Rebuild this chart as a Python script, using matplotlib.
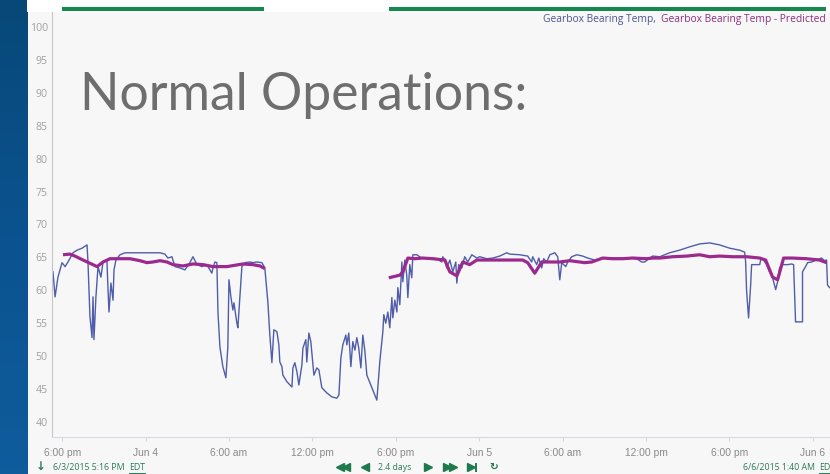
"""Gearbox bearing temperature trend, normal operations slide."""

from __future__ import annotations

import matplotlib

matplotlib.use("Agg")
import matplotlib.pyplot as plt
import numpy as np
import pandas as pd
from matplotlib.colors import LinearSegmentedColormap
from matplotlib.patches import Rectangle

START = pd.Timestamp("2015-06-03 17:16")
END = pd.Timestamp("2015-06-06 01:40")

# hours after START, bearing temperature
actual_hours = [
    0.07, 0.22, 0.43, 0.72, 0.94, 1.15, 1.51, 1.80, 2.16, 2.52, 2.59, 2.73, 2.88, 2.95,
    3.02, 3.16, 3.31, 3.52, 3.67, 3.95, 4.03, 4.10, 4.24, 4.39, 4.46, 4.60, 4.89, 5.25,
    5.75, 6.33, 7.05, 7.77, 8.12, 8.34, 8.63, 8.84, 9.20, 9.56, 9.92, 10.14, 10.43,
    10.79, 11.14, 11.36, 11.50, 11.58, 11.72, 11.86, 11.94, 12.08, 12.29, 12.51, 12.65,
    12.73, 12.87, 13.01, 13.09, 13.30, 13.37, 13.52, 13.66, 13.88, 14.24, 14.45, 14.74,
    15.10, 15.31, 15.53, 15.67, 15.82, 15.96, 16.18, 16.32, 16.39, 16.54, 16.61, 16.90,
    17.26, 17.33, 17.47, 17.62, 17.76, 17.98, 18.05, 18.26, 18.33, 18.48, 18.62, 18.77,
    18.84, 19.05, 19.20, 19.41, 19.77, 20.13, 20.49, 20.64, 20.78, 20.92, 21.14, 21.21,
    21.35, 21.50, 21.64, 21.79, 21.93, 22.07, 22.22, 22.36, 22.50, 22.65, 23.01, 23.37,
    23.58, 23.80, 23.87, 24.01, 24.16, 24.30, 24.45, 24.52, 24.66, 24.81, 24.88, 25.02,
    25.17, 25.24, 25.38, 25.52, 25.60, 25.74, 25.88, 25.96, 26.24, 26.60, 27.18, 27.68,
    28.04, 28.11, 28.26, 28.40, 28.62, 28.83, 29.05, 29.12, 29.26, 29.48, 29.69, 29.91,
    30.20, 30.56, 30.77, 31.28, 31.71, 32.21, 32.71, 32.93, 33.65, 34.22, 34.51, 34.58,
    34.87, 35.02, 35.23, 35.37, 35.59, 35.81, 36.17, 36.38, 36.53, 36.67, 36.81, 36.96,
    37.10, 37.39, 37.75, 38.18, 38.54, 39.04, 39.40, 39.62, 40.12, 40.84, 41.56, 42.06,
    42.42, 42.64, 43.00, 43.21, 43.72, 44.43, 45.15, 45.87, 46.59, 47.31, 48.03, 48.75,
    49.47, 49.83, 49.90, 49.97, 50.11, 50.26, 50.33, 50.91, 50.98, 51.12, 51.41, 51.62,
    51.84, 52.06, 52.20, 52.34, 52.56, 52.92, 53.21, 53.35, 53.49, 53.99, 53.99, 54.21,
    54.36, 54.64, 55.00, 55.36, 55.58, 55.72, 55.79, 55.94,
]
actual_temp = [
    62.8, 59.0, 62.0, 64.2, 63.6, 64.3, 65.7, 66.1, 66.4, 66.9, 64.2, 56.0, 52.8, 59.0,
    52.5, 59.0, 63.6, 62.0, 64.3, 64.6, 60.1, 56.7, 61.1, 58.5, 63.1, 64.6, 65.4, 65.7,
    65.7, 65.7, 65.7, 65.7, 65.5, 64.9, 65.1, 63.6, 63.4, 63.1, 64.2, 65.1, 63.9,
    63.6, 63.9, 63.1, 62.6, 63.4, 64.3, 64.2, 56.6, 51.4, 48.4, 46.7, 51.4,
    61.6, 59.0, 57.0, 58.1, 55.0, 54.3, 59.0, 63.6, 64.2, 64.3, 64.2, 64.3,
    64.2, 63.4, 58.2, 53.2, 49.0, 54.0, 53.7, 51.7, 49.1, 48.4, 47.1, 46.1,
    45.3, 48.2, 49.0, 47.6, 45.6, 48.7, 51.2, 52.5, 49.1, 53.5, 52.2, 48.7,
    47.1, 48.2, 47.9, 45.2, 44.4, 43.8, 43.6, 44.1, 49.7, 51.7, 53.2, 51.7,
    53.5, 48.4, 52.2, 50.9, 52.8, 51.2, 48.2, 53.2, 50.9, 47.1, 45.2, 43.3,
    49.1, 53.7, 56.3, 55.0, 56.7, 54.3, 58.9, 55.8, 58.5, 56.7, 60.4, 57.8,
    64.3, 61.3, 64.6, 62.3, 58.9, 63.9, 61.9, 65.4, 65.4, 64.9, 64.9, 64.8,
    64.3, 65.1, 64.6, 63.4, 64.6, 62.8, 64.3, 61.1, 63.9, 63.4, 65.1, 64.3,
    65.4, 64.9, 65.1, 64.8, 64.9, 65.2, 65.7, 65.5, 65.4, 65.2, 64.3, 65.1,
    63.9, 64.9, 63.4, 64.8, 64.3, 65.4, 65.7, 65.1, 61.6, 64.2, 63.9, 63.6,
    64.3, 65.1, 65.4, 65.2, 64.9, 64.6, 64.8, 64.9, 64.9, 64.9, 64.9, 64.8,
    64.3, 64.3, 64.9, 65.2, 65.1, 65.7, 66.1, 66.6, 67.05, 67.2, 66.9, 66.4,
    66.1, 65.8, 64.3, 59.8, 55.8, 60.8, 63.9, 63.9, 64.6, 64.8, 63.9, 62.8,
    61.9, 60.1, 61.3, 63.4, 63.9, 63.9, 64.0, 63.9, 55.2, 55.2, 62.8, 63.6,
    64.2, 64.3, 64.6, 64.9, 64.5, 64.6, 60.8, 60.4,
]

# model prediction, two runs with a gap between them
pred1_hours = [
    0.79, 1.29, 1.65, 2.23, 3.24, 3.67, 4.17, 4.89, 5.61, 6.33, 6.83, 7.26, 7.77, 8.27,
    8.70, 9.42, 10.14, 10.86, 11.58, 12.58, 13.73, 14.45, 14.96, 15.31,
]
pred1_temp = [
    65.4, 65.5, 65.2, 64.6, 63.6, 64.3, 64.8, 64.8, 64.8, 64.5, 64.2, 64.3, 64.5, 64.3,
    63.9, 63.7, 64.0, 63.9, 63.6, 63.6, 64.0, 63.9, 63.7, 63.3,
]
pred2_hours = [
    24.23, 25.02, 25.24, 25.60, 26.10, 26.67, 27.39, 28.26, 28.62, 29.12, 29.55, 30.05,
    30.56, 31.49, 32.21, 33.15, 33.86, 34.22, 34.73, 35.23, 35.81, 36.53, 37.24, 37.96,
    38.32, 38.83, 39.62, 40.34, 41.05, 41.77, 42.78, 43.21, 43.72, 44.65, 45.66, 46.59,
    47.31, 48.03, 48.96, 49.97, 50.91, 51.34, 51.84, 52.20, 52.63, 53.28, 54.28, 55.22,
    55.72,
]
pred2_temp = [
    61.9, 62.3, 62.8, 64.9, 64.8, 64.9, 64.8, 64.6, 62.8, 62.2, 64.3, 63.9,
    64.6, 64.6, 64.6, 64.6, 64.6, 64.2, 62.6, 64.3, 64.3, 64.3, 64.5, 64.3,
    64.2, 64.3, 64.9, 64.8, 64.8, 64.9, 64.8, 64.9, 64.9, 65.1, 65.2, 65.4,
    65.1, 65.2, 65.1, 65.1, 64.9, 64.6, 62.0, 61.6, 64.9, 64.9, 64.8, 64.6,
    64.2,
]

tick_times = pd.date_range("2015-06-03 18:00", periods=10, freq="6h")
tick_labels = [
    "6:00 pm", "Jun 4", "6:00 am", "12:00 pm", "6:00 pm",
    "Jun 5", "6:00 am", "12:00 pm", "6:00 pm", "Jun 6",
]
y_ticks = list(range(40, 101, 5))

W, H = 830, 474
BG = "#f7f7f7"
GREEN = "#2a7b57"


def to_times(hours: list[float]) -> pd.DatetimeIndex:
    return START + pd.to_timedelta(hours, unit="h")


def draw_chart(fig: plt.Figure) -> None:
    ax = fig.add_axes([52 / W, 37 / H, 784 / W, 425 / H])
    ax.set_facecolor(BG)

    ax.plot(to_times(actual_hours), actual_temp, color="#4f5dab", lw=1.0, zorder=2)
    ax.plot(to_times(pred1_hours), pred1_temp, color="#9c2a8e", lw=2.3, zorder=3,
            solid_capstyle="butt")
    ax.plot(to_times(pred2_hours), pred2_temp, color="#9c2a8e", lw=2.3, zorder=3,
            solid_capstyle="butt")

    ax.set_xlim(START, END)
    ax.set_ylim(37.7, 102.3)

    ax.set_yticks(y_ticks)
    ax.set_yticklabels([str(v) for v in y_ticks], family="Open Sans", fontsize=7.6,
                       color="#a0a0a0")
    ax.tick_params(axis="y", length=0, pad=3)

    ax.set_xticks(tick_times)
    ax.set_xticklabels(tick_labels, family="Liberation Sans", fontsize=7.4,
                       color="#8a8a8a")
    ax.tick_params(axis="x", length=3, color="#d3d7e2", pad=5)

    for side in ("top", "right"):
        ax.spines[side].set_visible(False)
    ax.spines["left"].set_color("#c6c6c6")
    ax.spines["bottom"].set_color("#d6dae6")


def draw_overlay(fig: plt.Figure) -> None:
    ov = fig.add_axes([0, 0, 1, 1], zorder=5)
    ov.patch.set_alpha(0)

    # slide's blue side strip
    cmap = LinearSegmentedColormap.from_list("strip", ["#074878", "#0b5390", "#0f5c9c"])
    grad = np.linspace(0, 1, 64).reshape(-1, 1)
    ov.imshow(grad, cmap=cmap, extent=(0, 27, H, 0), aspect="auto")

    ov.add_patch(Rectangle((27, 0), W - 27, 12, color="white", lw=0))
    ov.add_patch(Rectangle((62, 7), 202, 3.5, color="#15894b", lw=0))
    ov.add_patch(Rectangle((389, 7), 437, 3.5, color="#15894b", lw=0))

    ov.text(656, 19, "Gearbox Bearing Temp,", family="Open Sans", fontsize=7.4,
            color="#4b5591", va="center", ha="right")
    ov.text(826, 19, "Gearbox Bearing Temp - Predicted", family="Open Sans",
            fontsize=7.4, color="#8e2f7d", va="center", ha="right")

    ov.text(80, 110, "Normal Operations:", family="Lato", fontsize=37.3,
            color="#6e6e6e", va="baseline", ha="left")

    # footer: range start/end and navigation buttons
    ov.text(41, 467, "\u2193", family="DejaVu Sans", fontsize=8.5, fontweight="bold",
            color=GREEN, va="center", ha="center")
    ov.text(53, 467, "6/3/2015 5:16 PM", family="Open Sans", fontsize=6.3,
            color=GREEN, va="center", ha="left")
    ov.text(129, 467, "EDT", family="Open Sans", fontsize=6.3, color=GREEN,
            va="center", ha="left")
    ov.plot([129, 145], [472.5, 472.5], color=GREEN, lw=0.7)

    ov.text(743, 467, "6/6/2015 1:40 AM", family="Open Sans", fontsize=6.3,
            color=GREEN, va="center", ha="left")
    ov.text(819, 467, "ED", family="Open Sans", fontsize=6.3, color=GREEN,
            va="center", ha="left")
    ov.plot([819, 830], [472.5, 472.5], color=GREEN, lw=0.7)

    nav = "#1d7a4b"
    ov.plot([340, 346], [467, 467], ls="none", marker="<", ms=6, color=nav)
    ov.plot([364.5], [467], ls="none", marker="<", ms=6, color=nav)
    ov.text(378, 467, "2.4 days", family="Open Sans", fontsize=6.3, color=GREEN,
            va="center", ha="left")
    ov.plot([428], [467], ls="none", marker=">", ms=6, color=nav)
    ov.plot([447, 453], [467, 467], ls="none", marker=">", ms=6, color=nav)
    ov.plot([471], [467], ls="none", marker=">", ms=6, color=nav)
    ov.plot([475.5, 475.5], [463.5, 470.5], color=nav, lw=1.4)
    ov.text(493.5, 467, "\u21bb", family="DejaVu Sans", fontsize=7.5,
            fontweight="bold", color=nav, va="center", ha="center")

    ov.set_xlim(0, W)
    ov.set_ylim(H, 0)
    ov.axis("off")


def main() -> None:
    fig = plt.figure(figsize=(W / 100, H / 100), dpi=100, facecolor=BG)
    draw_chart(fig)
    draw_overlay(fig)
    fig.savefig("out.png", dpi=100, facecolor=BG)


if __name__ == "__main__":
    main()
